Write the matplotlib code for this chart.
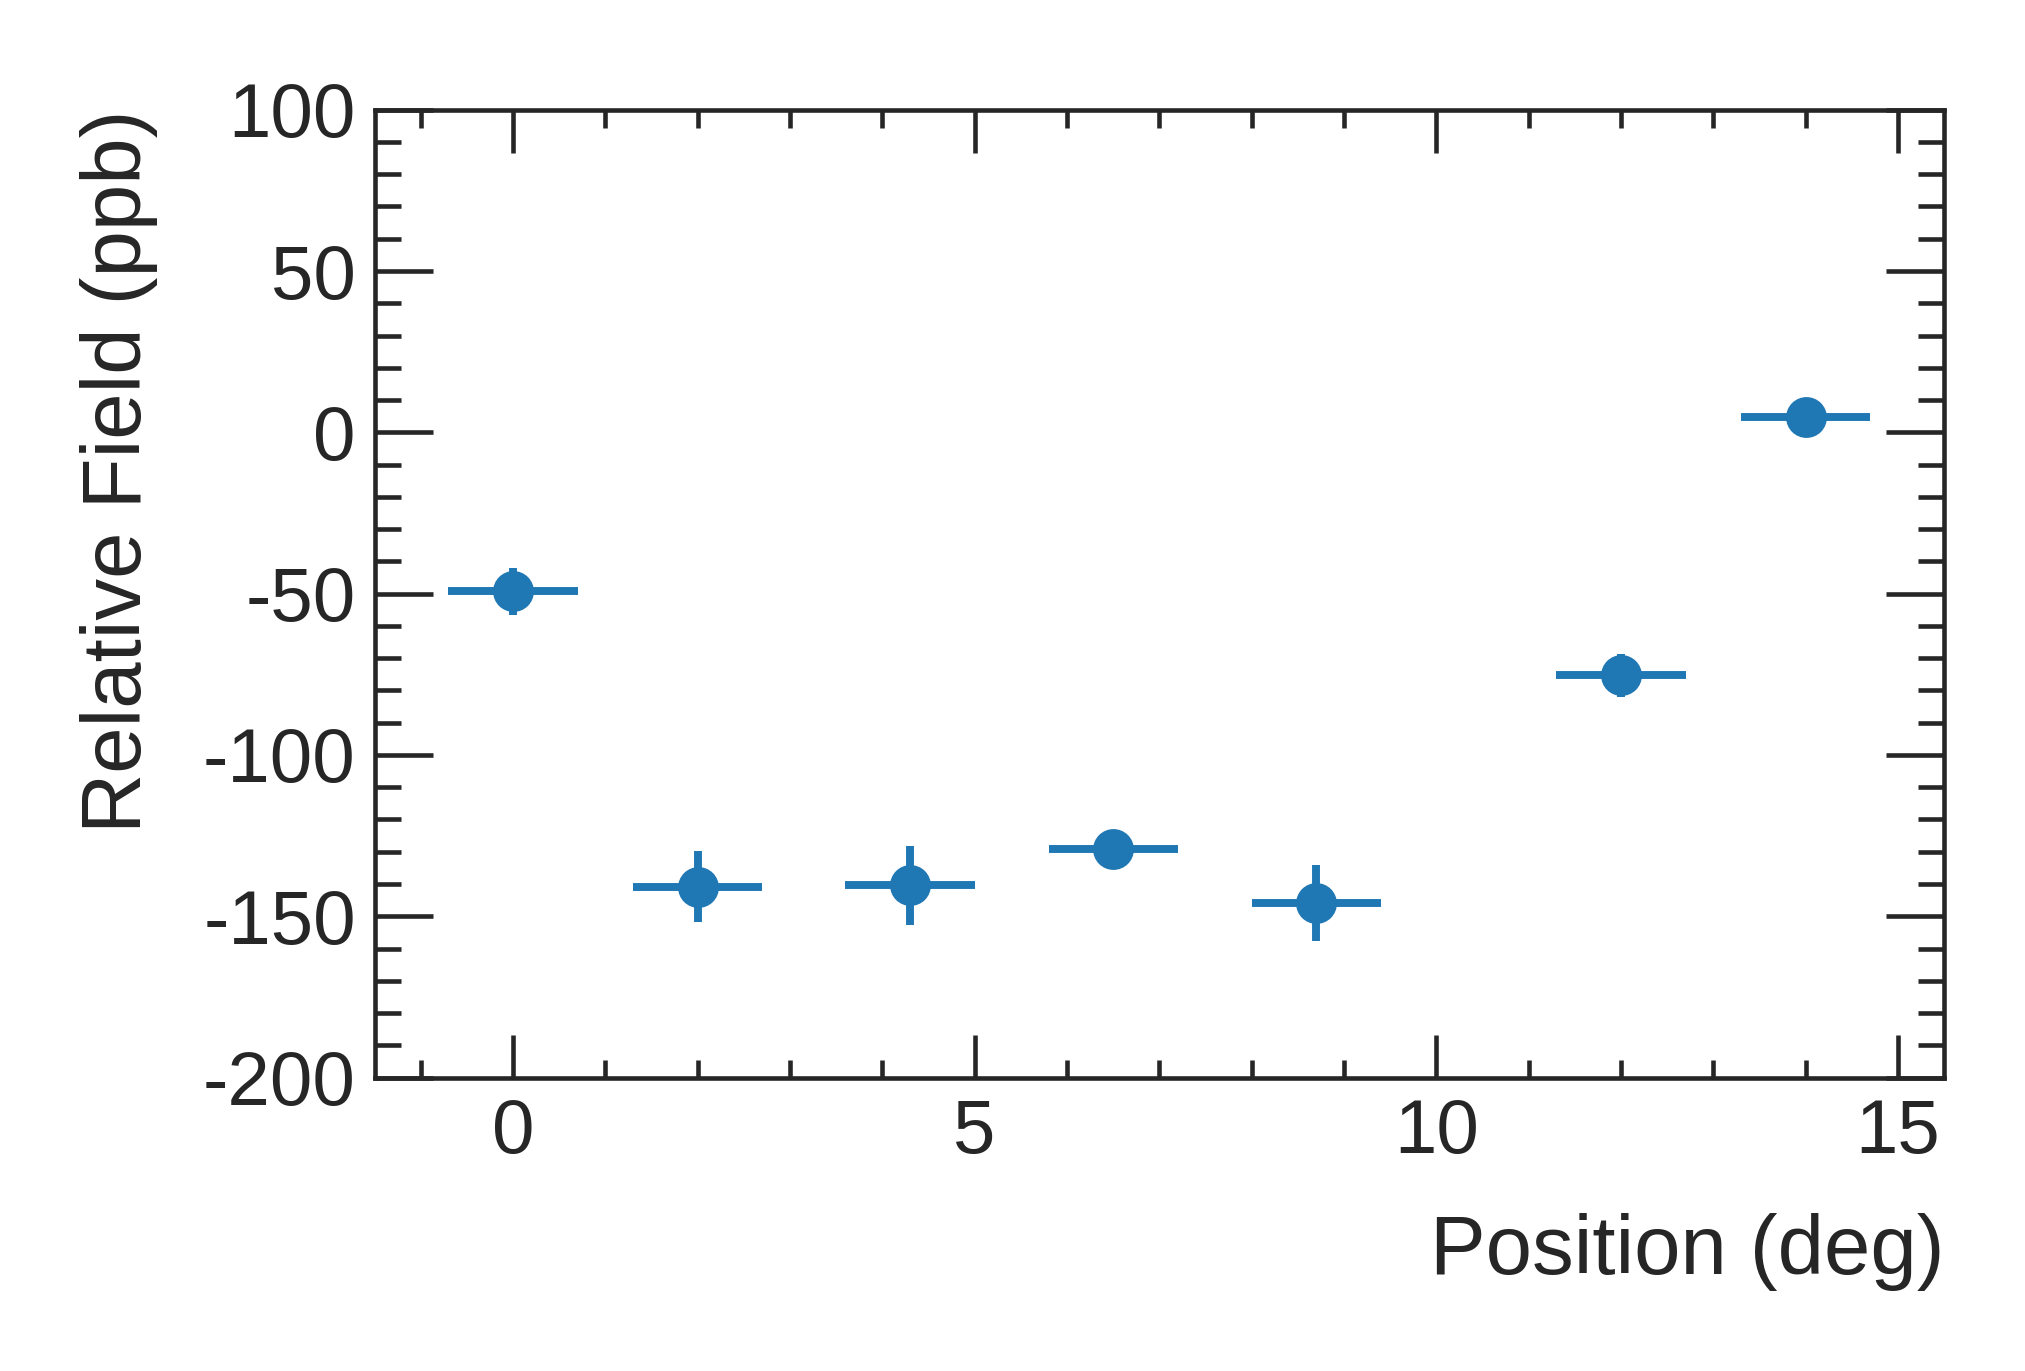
import matplotlib
matplotlib.use('Agg')
import matplotlib.pyplot as plt
from matplotlib.ticker import MultipleLocator

# data
position = [0.0, 2.0, 4.3, 6.5, 8.7, 12.0, 14.0]
position_err = [0.7, 0.7, 0.7, 0.7, 0.7, 0.7, 0.7]
field = [-49.2, -140.8, -140.4, -129.2, -146.0, -75.3, 4.6]
field_err = [7.3, 11.0, 12.2, 3.0, 11.8, 6.6, 3.0]

text_color = '#262626'
plt.rcParams['font.family'] = ['Liberation Sans', 'DejaVu Sans']
plt.rcParams['axes.unicode_minus'] = False
plt.rcParams['text.color'] = text_color
plt.rcParams['axes.labelcolor'] = text_color
plt.rcParams['xtick.color'] = text_color
plt.rcParams['ytick.color'] = text_color

fig = plt.figure(figsize=(6.75, 4.57), dpi=300)
ax = fig.add_axes([0.185, 0.214, 0.775, 0.706])

ax.errorbar(position, field, xerr=position_err, yerr=field_err,
            fmt='o', color='#1f77b4', markersize=8.8, elinewidth=1.9,
            capsize=0)

ax.set_xlim(-1.5, 15.5)
ax.set_ylim(-200, 100)

ax.xaxis.set_major_locator(MultipleLocator(5))
ax.xaxis.set_minor_locator(MultipleLocator(1))
ax.yaxis.set_major_locator(MultipleLocator(50))
ax.yaxis.set_minor_locator(MultipleLocator(10))

for s in ax.spines.values():
    s.set_linewidth(1.1)
    s.set_color(text_color)

ax.tick_params(which='both', direction='in', top=True, right=True, width=1.1,
               labelsize=18.3)
ax.tick_params(axis='x', which='major', length=10.3, pad=5)
ax.tick_params(axis='x', which='minor', length=4.4)
ax.tick_params(axis='y', which='major', length=13.9, pad=4.5)
ax.tick_params(axis='y', which='minor', length=6.2)

ax.set_xlabel('Position (deg)', fontsize=20, loc='right')
ax.set_ylabel('Relative Field (ppb)', fontsize=20, loc='top')
ax.xaxis.set_label_coords(1.0, -0.14)
ax.yaxis.set_label_coords(-0.138, 1.0)

fig.savefig('out.png', dpi=300)
